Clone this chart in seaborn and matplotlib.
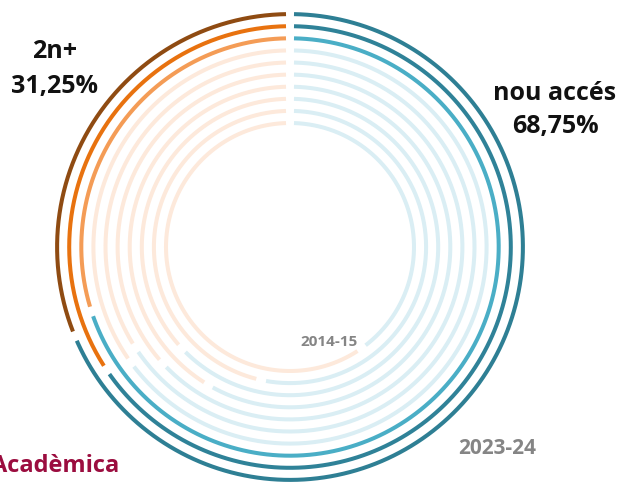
import numpy as np
import pandas as pd
import matplotlib
matplotlib.use("Agg")
import matplotlib.pyplot as plt
import seaborn as sns

# ---- data ----
years = ["2014-15", "2015-16", "2016-17", "2017-18", "2018-19",
         "2019-20", "2020-21", "2021-22", "2022-23", "2023-24"]
nou_acces = [40.2, 53.4, 63.0, 58.5, 63.2, 65.8, 65.0, 70.0, 65.6, 68.75]
segon_plus = [100 - v for v in nou_acces]

blue_colors = ["#daeef4"] * 7 + ["#4aaec6", "#2f8298", "#2e7f94"]
orange_colors = ["#fde9db"] * 7 + ["#f49c56", "#e8720f", "#8f4b12"]

sns.set_theme(style="white")
plt.rcParams["font.family"] = ["Open Sans", "DejaVu Sans"]

W, H = 625, 483
fig = plt.figure(figsize=(W / 100, H / 100), dpi=100)
cx, cy = 290, 247          # centre in pixels (from top)
R = 250                    # axes half-size in pixels
ax = fig.add_axes([(cx - R) / W, (H - cy - R) / H, 2 * R / W, 2 * R / H],
                  projection="polar")
ax.set_theta_zero_location("N")
ax.set_theta_direction(-1)
ax.set_ylim(0, R)

r_inner, r_step = 124, 12.1
top_gap, split_gap = 8.0, 10.0

rows = []
palette = {}
for i, (yr, b, o) in enumerate(zip(years, nou_acces, segon_plus)):
    r = r_inner + i * r_step
    split = 2 * np.pi * b / (b + o)
    g1 = top_gap / 2 / r
    g2 = split_gap / 2 / r
    segs = [("blue", g1, split - g2, blue_colors[i]),
            ("orange", split + g2, 2 * np.pi - g1, orange_colors[i])]
    for name, a0, a1, col in segs:
        key = f"{yr}-{name}"
        palette[key] = col
        th = np.linspace(a0, a1, 300)
        rows.append(pd.DataFrame({"theta": th, "r": r, "seg": key}))
df = pd.concat(rows, ignore_index=True)

sns.lineplot(data=df, x="theta", y="r", hue="seg", units="seg",
             estimator=None, sort=False, palette=palette, legend=False,
             linewidth=2.9, solid_capstyle="butt", ax=ax)
ax.set_axis_off()

def px(x, y):
    return x / W, 1 - y / H

fig.text(*px(55, 52), "2n+", ha="center", va="center",
         fontsize=18, fontweight="bold", color="#111111")
fig.text(*px(55, 86), "31,25%", ha="center", va="center",
         fontsize=18, fontweight="bold", color="#111111")
fig.text(*px(555, 93), "nou accés", ha="center", va="center",
         fontsize=18, fontweight="bold", color="#111111")
fig.text(*px(555, 127), "68,75%", ha="center", va="center",
         fontsize=18, fontweight="bold", color="#111111")
fig.text(*px(329, 342), "2014-15", ha="center", va="center",
         fontsize=11, fontweight="bold", color="#858585")
fig.text(*px(497, 448), "2023-24", ha="center", va="center",
         fontsize=15, fontweight="bold", color="#858585")
fig.text(*px(119, 466), "Acadèmica", ha="right", va="center",
         fontsize=17, fontweight="bold", color="#9b0d3f")

fig.savefig("out.png", dpi=100)
